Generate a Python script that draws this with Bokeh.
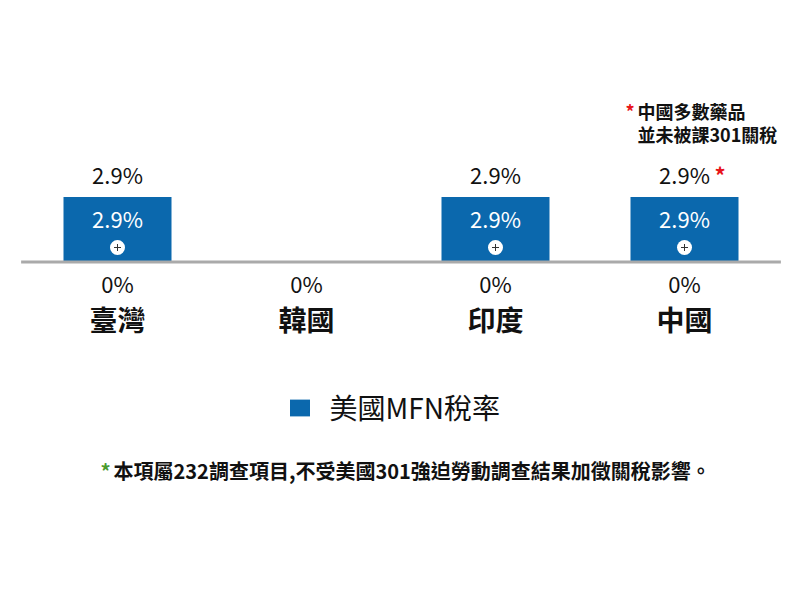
import numpy as np
from bokeh.plotting import figure
from bokeh.models import ColumnDataSource, Range1d, Legend, LegendItem, Label
from bokeh.core.properties import value
from bokeh.embed import file_html
from bokeh.resources import INLINE

# data
countries = ["臺灣", "韓國", "印度", "中國"]
mfn_rate = [2.9, 0, 2.9, 2.9]        # 美國MFN稅率 (bar above baseline)
other_rate = [0, 0, 0, 0]            # value shown below the baseline
note_lines = ["中國多數藥品", "並未被課301關稅"]
footnote = "本項屬232調查項目,不受美國301強迫勞動調查結果加徵關稅影響。"

FONT = "Noto Sans CJK TC, Noto Sans, sans-serif"
F = value(FONT)
BLUE = "#0b68ad"
INK = "#111111"

W, H = 784, 584
px_x = 189.0            # pixels per category slot
px_y = 65 / 2.9         # pixels per percent point

x = list(range(len(countries)))
total = [m + o for m, o in zip(mfn_rate, other_rate)]

src = ColumnDataSource(dict(
    x=x, name=countries, mfn=mfn_rate,
    low=[f"{v:g}%" for v in other_rate],
))
has_bar = [i for i, v in enumerate(mfn_rate) if v > 0]
bar_src = ColumnDataSource(dict(
    x=[x[i] for i in has_bar],
    mfn=[mfn_rate[i] for i in has_bar],
    total=[total[i] for i in has_bar],
    in_lab=[f"{mfn_rate[i]:g}%" for i in has_bar],
    top_lab=[f"{total[i]:g}%" for i in has_bar],
    mark_y=[14.5 / px_y] * len(has_bar),
))

x0 = -117 / px_x
y1 = 261.5 / px_y
p = figure(width=W, height=H, output_backend="svg", toolbar_location=None,
           x_range=Range1d(x0, x0 + W / px_x),
           y_range=Range1d(y1 - H / px_y, y1),
           x_axis_type=None, y_axis_type=None, min_border=0)
p.grid.visible = False
p.outline_line_color = None

bars = p.vbar(x="x", top="mfn", bottom=0, width=108 / px_x, source=bar_src,
              fill_color=BLUE, line_color=None)

# baseline
p.segment(x0=[min(x) - 0.51], x1=[max(x) + 0.51], y0=[0], y1=[0],
          line_color="#aaaaaa", line_width=3)

# plus-in-circle markers
p.scatter(x="x", y="mark_y", source=bar_src, size=15, marker="circle",
          fill_color="white", line_color=None)
p.scatter(x="x", y="mark_y", source=bar_src, size=7, marker="cross",
          line_color="#333333", line_width=1)

# value labels
p.text(x="x", y="total", text="top_lab", source=bar_src, y_offset=-23,
       text_align="center", text_baseline="middle", text_font=F,
       text_font_size="22px", text_color=INK)
p.text(x="x", y="mfn", text="in_lab", source=bar_src, y_offset=21,
       text_align="center", text_baseline="middle", text_font=F,
       text_font_size="22px", text_color="white")
p.text(x="x", y=0, text="low", source=src, y_offset=20.5,
       text_align="center", text_baseline="middle", text_font=F,
       text_font_size="22px", text_color=INK)
p.text(x="x", y=0, text="name", source=src, y_offset=56.5,
       text_align="center", text_baseline="middle", text_font=F,
       text_font_size="28px", text_font_style="bold", text_color=INK)

# China note
ci = countries.index("中國")
p.text(x=[x[ci]], y=[total[ci]], text=["*"], x_offset=30, y_offset=-23,
       text_align="left", text_baseline="middle", text_font=F,
       text_font_size="22px", text_font_style="bold", text_color="#e8141a")
p.text(x=[x[ci]], y=[mfn_rate[ci]], text=["*"], x_offset=-59, y_offset=-86,
       text_align="left", text_baseline="middle", text_font=F,
       text_font_size="18px", text_font_style="bold", text_color="#e8141a")
p.text(x=[x[ci]] * 2, y=[mfn_rate[ci]] * 2, text=note_lines, x_offset=-47,
       y_offset=[-86, -63], text_align="left", text_baseline="middle",
       text_font=F, text_font_size="18px", text_font_style="bold",
       text_color=INK)

# legend
legend = Legend(items=[LegendItem(label="美國MFN稅率", renderers=[bars])],
                location=(286.5, 157), orientation="horizontal",
                glyph_width=25, glyph_height=21, label_standoff=18,
                label_text_font=FONT, label_text_font_size="28px",
                label_text_color=INK, label_text_baseline="middle",
                padding=0, margin=0, border_line_color=None,
                background_fill_alpha=0)
p.add_layout(legend)

# footnote
p.add_layout(Label(x=100, y=114, x_units="screen", y_units="screen", text="*",
                   text_font=FONT, text_font_size="20px", text_font_style="bold",
                   text_color="#4a9a2e", text_baseline="middle"))
p.add_layout(Label(x=113, y=114, x_units="screen", y_units="screen", text=footnote,
                   text_font=FONT, text_font_size="20px", text_font_style="bold",
                   text_color=INK, text_baseline="middle"))

open("out.html", "w").write(file_html(p, INLINE))
